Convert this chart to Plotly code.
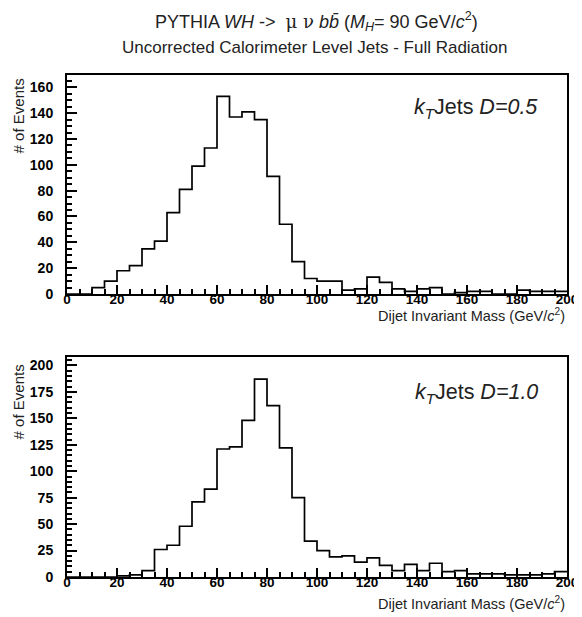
import plotly.graph_objects as go

# ---- data ----
bin_edges = list(range(0, 205, 5))  # 5 GeV bins, 0..200
counts_d05 = [0, 0, 5, 10, 18, 22, 35, 41, 63, 81,
              99, 113, 153, 137, 141, 135, 91, 54, 25, 12,
              10, 10, 3, 4, 13, 9, 4, 2, 4, 5,
              0, 1, 2, 2, 0, 0, 3, 2, 2, 2]
counts_d10 = [0, 0, 0, 0, 1, 2, 6, 26, 30, 48,
              71, 83, 121, 123, 148, 187, 162, 122, 75, 34,
              25, 19, 20, 14, 18, 11, 6, 12, 6, 13,
              5, 6, 3, 3, 3, 2, 2, 2, 3, 5]
x_ticks = [0, 20, 40, 60, 80, 100, 120, 140, 160, 180, 200]
y_ticks_top = [0, 20, 40, 60, 80, 100, 120, 140, 160]
y_ticks_bot = [0, 25, 50, 75, 100, 125, 150, 175, 200]

FONT = "Liberation Sans"
TXT = "#222222"

# page body has an 8px default margin: compensate
BODY = 8
W, H = 582, 617
PL, PR, PT, PB = 67, 571, 75, 577  # plot area in window pixels

fig = go.Figure()
for counts, xa, ya in [(counts_d05, "x", "y"), (counts_d10, "x2", "y2")]:
    fig.add_trace(go.Scatter(
        x=bin_edges, y=counts + [counts[-1]], mode="lines",
        line=dict(shape="hv", color="black", width=1.7),
        xaxis=xa, yaxis=ya, showlegend=False, hoverinfo="skip"))

def xax(anchor):
    return dict(domain=[0, 1], range=[0, 200], anchor=anchor,
                tickvals=x_ticks, ticks="inside", ticklen=9, tickwidth=1.5,
                tickcolor="black",
                minor=dict(ticks="inside", ticklen=5, dtick=5, tick0=0,
                           tickwidth=1.5, tickcolor="black", showgrid=False),
                showline=True, mirror=True, linewidth=2, linecolor="black",
                showgrid=False, zeroline=False,
                tickfont=dict(family=FONT, size=13.5, color="black", weight="bold"),
                ticklabelstandoff=-8)

def yax(anchor, dom, rng, tv):
    return dict(domain=dom, range=rng, anchor=anchor,
                tickvals=tv, ticks="inside", ticklen=10, tickwidth=1.5,
                tickcolor="black",
                minor=dict(ticks="inside", ticklen=5, dtick=5, tick0=0,
                           tickwidth=1.5, tickcolor="black", showgrid=False),
                showline=True, mirror=True, linewidth=2, linecolor="black",
                showgrid=False, zeroline=False,
                tickfont=dict(family=FONT, size=14, color="black", weight="bold"),
                ticklabelstandoff=9)

def py_to_dom(py):
    return (PB - py) / (PB - PT)

fig.update_layout(
    width=W, height=H,
    margin=dict(l=PL - BODY, r=W + BODY - PR, t=PT - BODY, b=H + BODY - PB),
    paper_bgcolor="white", plot_bgcolor="white",
    xaxis=xax("y"), yaxis=yax("x", [py_to_dom(294), 1], [0, 169.5], y_ticks_top),
    xaxis2=xax("y2"), yaxis2=yax("x2", [0, py_to_dom(357)], [0, 208], y_ticks_bot),
)

def px_to_paper_x(px):
    return (px - PL) / (PR - PL)

def px_to_paper_y(py):
    return (PB - py) / (PB - PT)

annotations = [
    dict(text="PYTHIA <i>WH</i> ->  <span style=\"font-family:'DejaVu Serif'\">μ ν</span> <i>b</i><i>b̄</i> (<i>M<sub>H</sub></i>= 90 GeV/<i>c</i><sup>2</sup>)",
         x=px_to_paper_x(318), y=px_to_paper_y(21), font=dict(family=FONT, size=18, color=TXT)),
    dict(text="Uncorrected Calorimeter Level Jets - Full Radiation",
         x=px_to_paper_x(317), y=px_to_paper_y(47), font=dict(family=FONT, size=17, color=TXT)),
    dict(text="<i>k<sub>T</sub></i>Jets <i>D=0.5</i>", xanchor="right",
         x=px_to_paper_x(544), y=px_to_paper_y(108), font=dict(family=FONT, size=21.5, color=TXT)),
    dict(text="<i>k<sub>T</sub></i>Jets <i>D=1.0</i>", xanchor="right",
         x=px_to_paper_x(544), y=px_to_paper_y(393), font=dict(family=FONT, size=21.5, color=TXT)),
    dict(text="Dijet Invariant Mass (GeV/<i>c</i><sup>2</sup>)", xanchor="right",
         x=1.0, y=px_to_paper_y(315), font=dict(family=FONT, size=14.5, color=TXT)),
    dict(text="Dijet Invariant Mass (GeV/<i>c</i><sup>2</sup>)", xanchor="right",
         x=1.0, y=px_to_paper_y(603), font=dict(family=FONT, size=14.5, color=TXT)),
    dict(text="# of Events", textangle=-90,
         x=px_to_paper_x(18), y=px_to_paper_y(116), font=dict(family=FONT, size=15, color=TXT)),
    dict(text="# of Events", textangle=-90,
         x=px_to_paper_x(18), y=px_to_paper_y(402), font=dict(family=FONT, size=15, color=TXT)),
]
for a in annotations:
    a.setdefault("xref", "paper")
    a.setdefault("yref", "paper")
    a.setdefault("xanchor", "center")
    a.setdefault("yanchor", "middle")
    a.setdefault("showarrow", False)
fig.update_layout(annotations=annotations)

fig.write_html("out.html")
